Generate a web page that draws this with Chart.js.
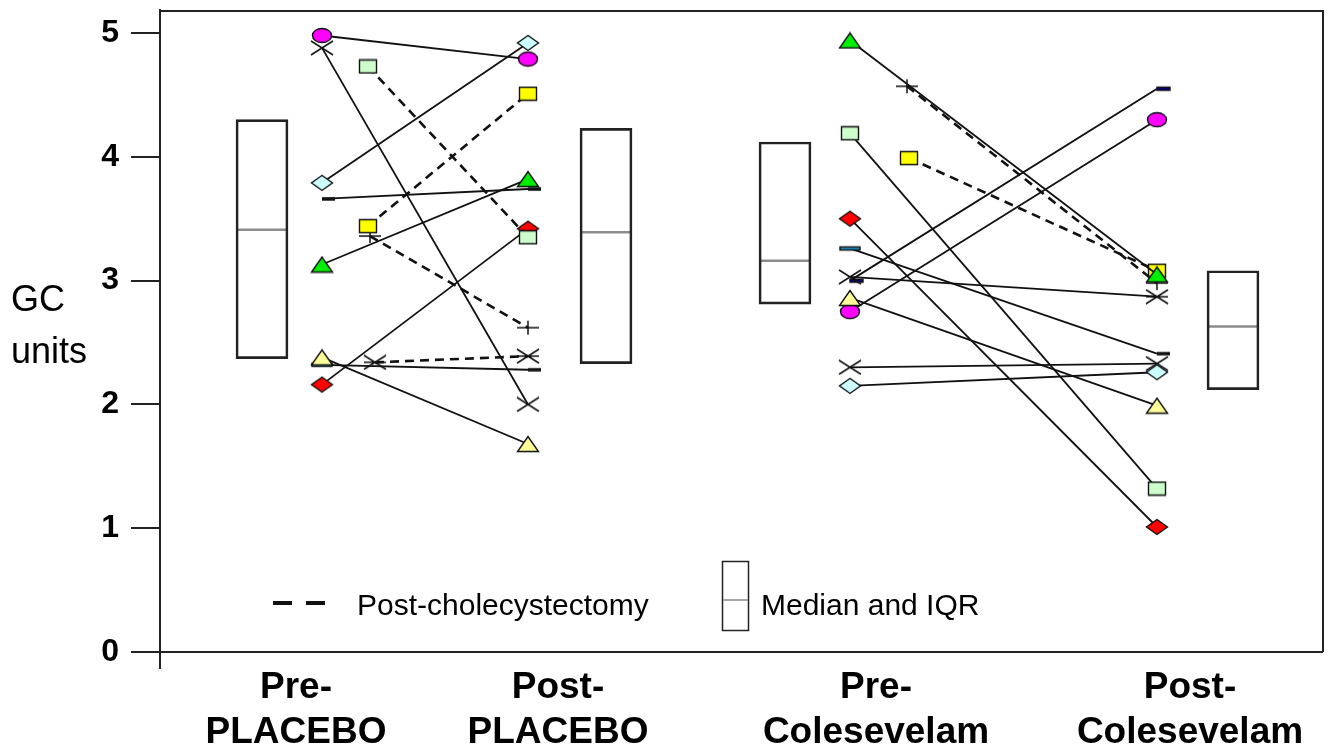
<!DOCTYPE html>
<html>
<head>
<meta charset="utf-8">
<script src="https://cdn.jsdelivr.net/npm/chart.js@4.4.1/dist/chart.umd.min.js"></script>
<style>
  html, body { margin: 0; padding: 0; background: #fff; }
</style>
</head>
<body>
<canvas id="myChart" width="1333" height="753"></canvas>
<script>
// group labels (x axis)
const groupLabels = [['Pre-', 'PLACEBO'], ['Post-', 'PLACEBO'], ['Pre-', 'Colesevelam'], ['Post-', 'Colesevelam']];

// placebo: one value per subject, pre and post
const placeboPre   = [4.98, 4.88, 4.73, 3.79, 3.66, 3.44, 3.36, 3.13, 2.38, 2.32, 2.16, 2.34];
const placeboPost  = [4.79, 2.00, 3.35, 4.92, 3.74, 4.51, 2.62, 3.82, 1.68, 2.28, 3.42, 2.39];
const placeboChole = [0, 0, 1, 0, 0, 1, 1, 0, 0, 0, 0, 1];

// colesevelam: one value per subject, pre and post
const colesPre   = [4.94, 4.57, 4.19, 3.99, 3.50, 3.26, 3.03, 3.00, 2.86, 2.75, 2.30, 2.15];
const colesPost  = [3.05, 2.98, 1.32, 3.08, 1.01, 2.41, 2.87, 4.55, 1.99, 4.30, 2.33, 2.26];
const colesChole = [0, 1, 0, 1, 0, 0, 0, 0, 0, 0, 0, 0];

// median and IQR per group
const boxLow    = [2.37, 2.33, 2.81, 2.12];
const boxMedian = [3.41, 3.39, 3.16, 2.63];
const boxHigh   = [4.30, 4.23, 4.12, 3.08];

const yTicks = [0, 1, 2, 3, 4, 5];

// --- layout (x positions on a 0..11.63 scale) ---
const POS = { prePla: 1.62, postPla: 3.68, preCol: 6.90, postCol: 9.97 };
const boxX = [1.02, 4.46, 6.25, 10.73];
const labelX = [1.36, 3.98, 7.16, 10.30];
const placeboShift = [0, 0, 0.46, 0, 0, 0.46, 0.48, 0, 0, 0, 0, 0.53];
const colesShift   = [0, 0.57, 0, 0.59, 0, 0, 0, 0, 0, 0, 0, 0];

const placeboMarkPre  = ['ell', 'x', 'sqG', 'diaC', 'dashK', 'sqY', 'plus', 'triG', 'triK', 'dashB', 'diaR', 'star'];
const placeboMarkPost = ['ell', 'x', 'sqG', 'diaC', 'dashK', 'sqY', 'plus', 'triG', 'triK', 'dashK', 'diaR', 'star'];
const colesMarkPre  = ['triG', 'plus', 'sqG', 'sqY', 'diaR', 'dashB', 'x', 'dashN', 'triK', 'ell', 'x', 'diaC'];
const colesMarkPost = ['triG', 'plus', 'sqG', 'sqY', 'diaR', 'dashK', 'star', 'dashN', 'triK', 'ell', 'x', 'diaC'];

const FONT = '"Liberation Sans", Arial, sans-serif';

// маркери малюються на маленьких canvas
function makeMarker(kind) {
  const c = document.createElement('canvas');
  const ctx = c.getContext('2d');
  const edge = '#111';
  function size(w, h) { c.width = w; c.height = h; }
  function poly(pts, fill) {
    ctx.beginPath();
    pts.forEach((p, i) => i ? ctx.lineTo(p[0], p[1]) : ctx.moveTo(p[0], p[1]));
    ctx.closePath();
    ctx.fillStyle = fill; ctx.fill();
    ctx.strokeStyle = edge; ctx.lineWidth = 1.4; ctx.stroke();
  }
  function lines(segs, lw) {
    ctx.beginPath();
    segs.forEach(s => { ctx.moveTo(s[0], s[1]); ctx.lineTo(s[2], s[3]); });
    ctx.strokeStyle = edge; ctx.lineWidth = lw || 1.5; ctx.stroke();
  }
  switch (kind) {
    case 'ell':
      size(22, 17);
      ctx.beginPath(); ctx.ellipse(11, 8.5, 9.5, 7, 0, 0, Math.PI * 2);
      ctx.fillStyle = '#ff00ff'; ctx.fill(); ctx.strokeStyle = edge; ctx.lineWidth = 1.4; ctx.stroke();
      break;
    case 'sqG': size(20, 16); poly([[1.5, 1.5], [18.5, 1.5], [18.5, 14.5], [1.5, 14.5]], '#ccffcc'); break;
    case 'sqY': size(20, 16); poly([[1.5, 1.5], [18.5, 1.5], [18.5, 14.5], [1.5, 14.5]], '#ffff00'); break;
    case 'diaC': size(24, 18); poly([[12, 1.5], [22.5, 9], [12, 16.5], [1.5, 9]], '#ccffff'); break;
    case 'diaR': size(24, 18); poly([[12, 1.5], [22.5, 9], [12, 16.5], [1.5, 9]], '#ff0000'); break;
    case 'triG': size(24, 18); poly([[12, 1.5], [22.5, 16.5], [1.5, 16.5]], '#00ee00'); break;
    case 'triK': size(24, 18); poly([[12, 1.5], [22.5, 16.5], [1.5, 16.5]], '#ffff99'); break;
    case 'x': size(24, 16); lines([[1, 1, 23, 15], [1, 15, 23, 1]]); break;
    case 'star': size(24, 16); lines([[1, 1, 23, 15], [1, 15, 23, 1], [1, 8, 23, 8]]); break;
    case 'plus': size(24, 16); lines([[1, 8, 23, 8], [12, 1, 12, 15]]); break;
    case 'dashK': size(28, 6); lines([[14, 3, 27, 3]], 3.5); break;
    case 'dashB': size(24, 8); poly([[2, 2.5], [22, 2.5], [22, 5.5], [2, 5.5]], '#1e9fd6'); break;
    case 'dashN': size(30, 8); poly([[15, 2.5], [28, 2.5], [28, 5.5], [15, 5.5]], '#00008b'); break;
  }
  return c;
}
const markerCache = {};
function mk(kind) { return markerCache[kind] || (markerCache[kind] = makeMarker(kind)); }

function pairDatasets(pre, post, chole, shift, mPre, mPost, xPre, xPost) {
  return pre.map((v, i) => ({
    type: 'line',
    data: [{ x: xPre + shift[i], y: v }, { x: xPost, y: post[i] }],
    borderColor: '#111',
    borderWidth: chole[i] ? 2.6 : 1.8,
    borderDash: chole[i] ? [9, 6] : [],
    pointStyle: [mk(mPre[i]), mk(mPost[i])],
    pointRadius: 8,
    tension: 0,
    fill: false
  }));
}

const datasets = [
  {
    type: 'bar',
    data: boxX.map((x, i) => ({ x: x, y: [boxLow[i], boxHigh[i]] })),
    backgroundColor: 'rgba(255,255,255,0)',
    borderColor: '#222',
    borderWidth: 2,
    borderSkipped: false,
    barThickness: 52
  },
  {
    type: 'line',
    showLine: false,
    data: boxX.map((x, i) => ({ x: x, y: boxMedian[i] })),
    pointStyle: 'line',
    pointRadius: 25,
    borderColor: '#8c8c8c',
    borderWidth: 2.5
  }
].concat(
  pairDatasets(placeboPre, placeboPost, placeboChole, placeboShift, placeboMarkPre, placeboMarkPost, POS.prePla, POS.postPla),
  pairDatasets(colesPre, colesPost, colesChole, colesShift, colesMarkPre, colesMarkPost, POS.preCol, POS.postCol)
);

// рамка, легенда і підпис осі
const extras = {
  id: 'extras',
  afterDraw(chart) {
    const ctx = chart.ctx;
    const a = chart.chartArea;
    const y0 = chart.scales.y.getPixelForValue(0);
    ctx.save();
    ctx.strokeStyle = '#222';
    ctx.lineWidth = 2;
    ctx.beginPath();
    ctx.moveTo(a.left, a.top + 1); ctx.lineTo(a.right, a.top + 1);
    ctx.lineTo(a.right, y0);
    ctx.stroke();

    // legend: dashed line
    ctx.strokeStyle = '#111';
    ctx.lineWidth = 4;
    ctx.setLineDash([19, 14]);
    ctx.beginPath(); ctx.moveTo(273, 603); ctx.lineTo(325, 603); ctx.stroke();
    ctx.setLineDash([]);
    ctx.fillStyle = '#000';
    ctx.font = '30px ' + FONT;
    ctx.textBaseline = 'middle';
    ctx.textAlign = 'left';
    ctx.fillText('Post-cholecystectomy', 357, 607);

    // legend: box
    ctx.strokeStyle = '#222';
    ctx.lineWidth = 1.5;
    ctx.strokeRect(722.5, 561.5, 26, 69);
    ctx.strokeStyle = '#8c8c8c';
    ctx.beginPath(); ctx.moveTo(723, 600); ctx.lineTo(748, 600); ctx.stroke();
    ctx.fillText('Median and IQR', 761, 607);

    // y title
    ctx.font = '36px ' + FONT;
    ctx.fillText('GC', 11, 301);
    ctx.fillText('units', 11, 353);
    ctx.restore();
  }
};

const ctx = document.getElementById('myChart').getContext('2d');
const myChart = new Chart(ctx, {
  data: { datasets: datasets },
  options: {
    responsive: false,
    animation: false,
    layout: { autoPadding: false, padding: { top: 10, right: 10, left: 0, bottom: 0 } },
    plugins: { legend: { display: false }, tooltip: { enabled: false } },
    scales: {
      x: {
        type: 'linear',
        offset: false,
        min: 0,
        max: 11.63,
        afterFit: s => { s.height = 85; s.paddingLeft = 0; s.paddingRight = 0; },
        afterBuildTicks: s => { s.ticks = labelX.map(v => ({ value: v })); },
        ticks: {
          autoSkip: false,
          maxRotation: 0,
          padding: -11,
          color: '#000',
          font: { family: FONT, weight: 'bold', size: 37, lineHeight: 1.22 },
          callback: (v, i) => groupLabels[i]
        },
        grid: { display: false },
        border: { display: false }
      },
      y: {
        type: 'linear',
        min: -0.129,
        max: 5.186,
        afterFit: s => { s.width = 160; s.paddingTop = 0; s.paddingBottom = 0; },
        afterBuildTicks: s => { s.ticks = yTicks.map(v => ({ value: v })); },
        ticks: {
          padding: 12,
          color: '#000',
          font: { family: FONT, weight: 'bold', size: 32 }
        },
        grid: {
          color: c => (c.tick && c.tick.value === 0 ? '#222' : 'rgba(0,0,0,0)'),
          tickColor: '#222',
          tickLength: 29,
          lineWidth: 2
        },
        border: { color: '#222', width: 2 }
      }
    }
  },
  plugins: [extras]
});
</script>
</body>
</html>
